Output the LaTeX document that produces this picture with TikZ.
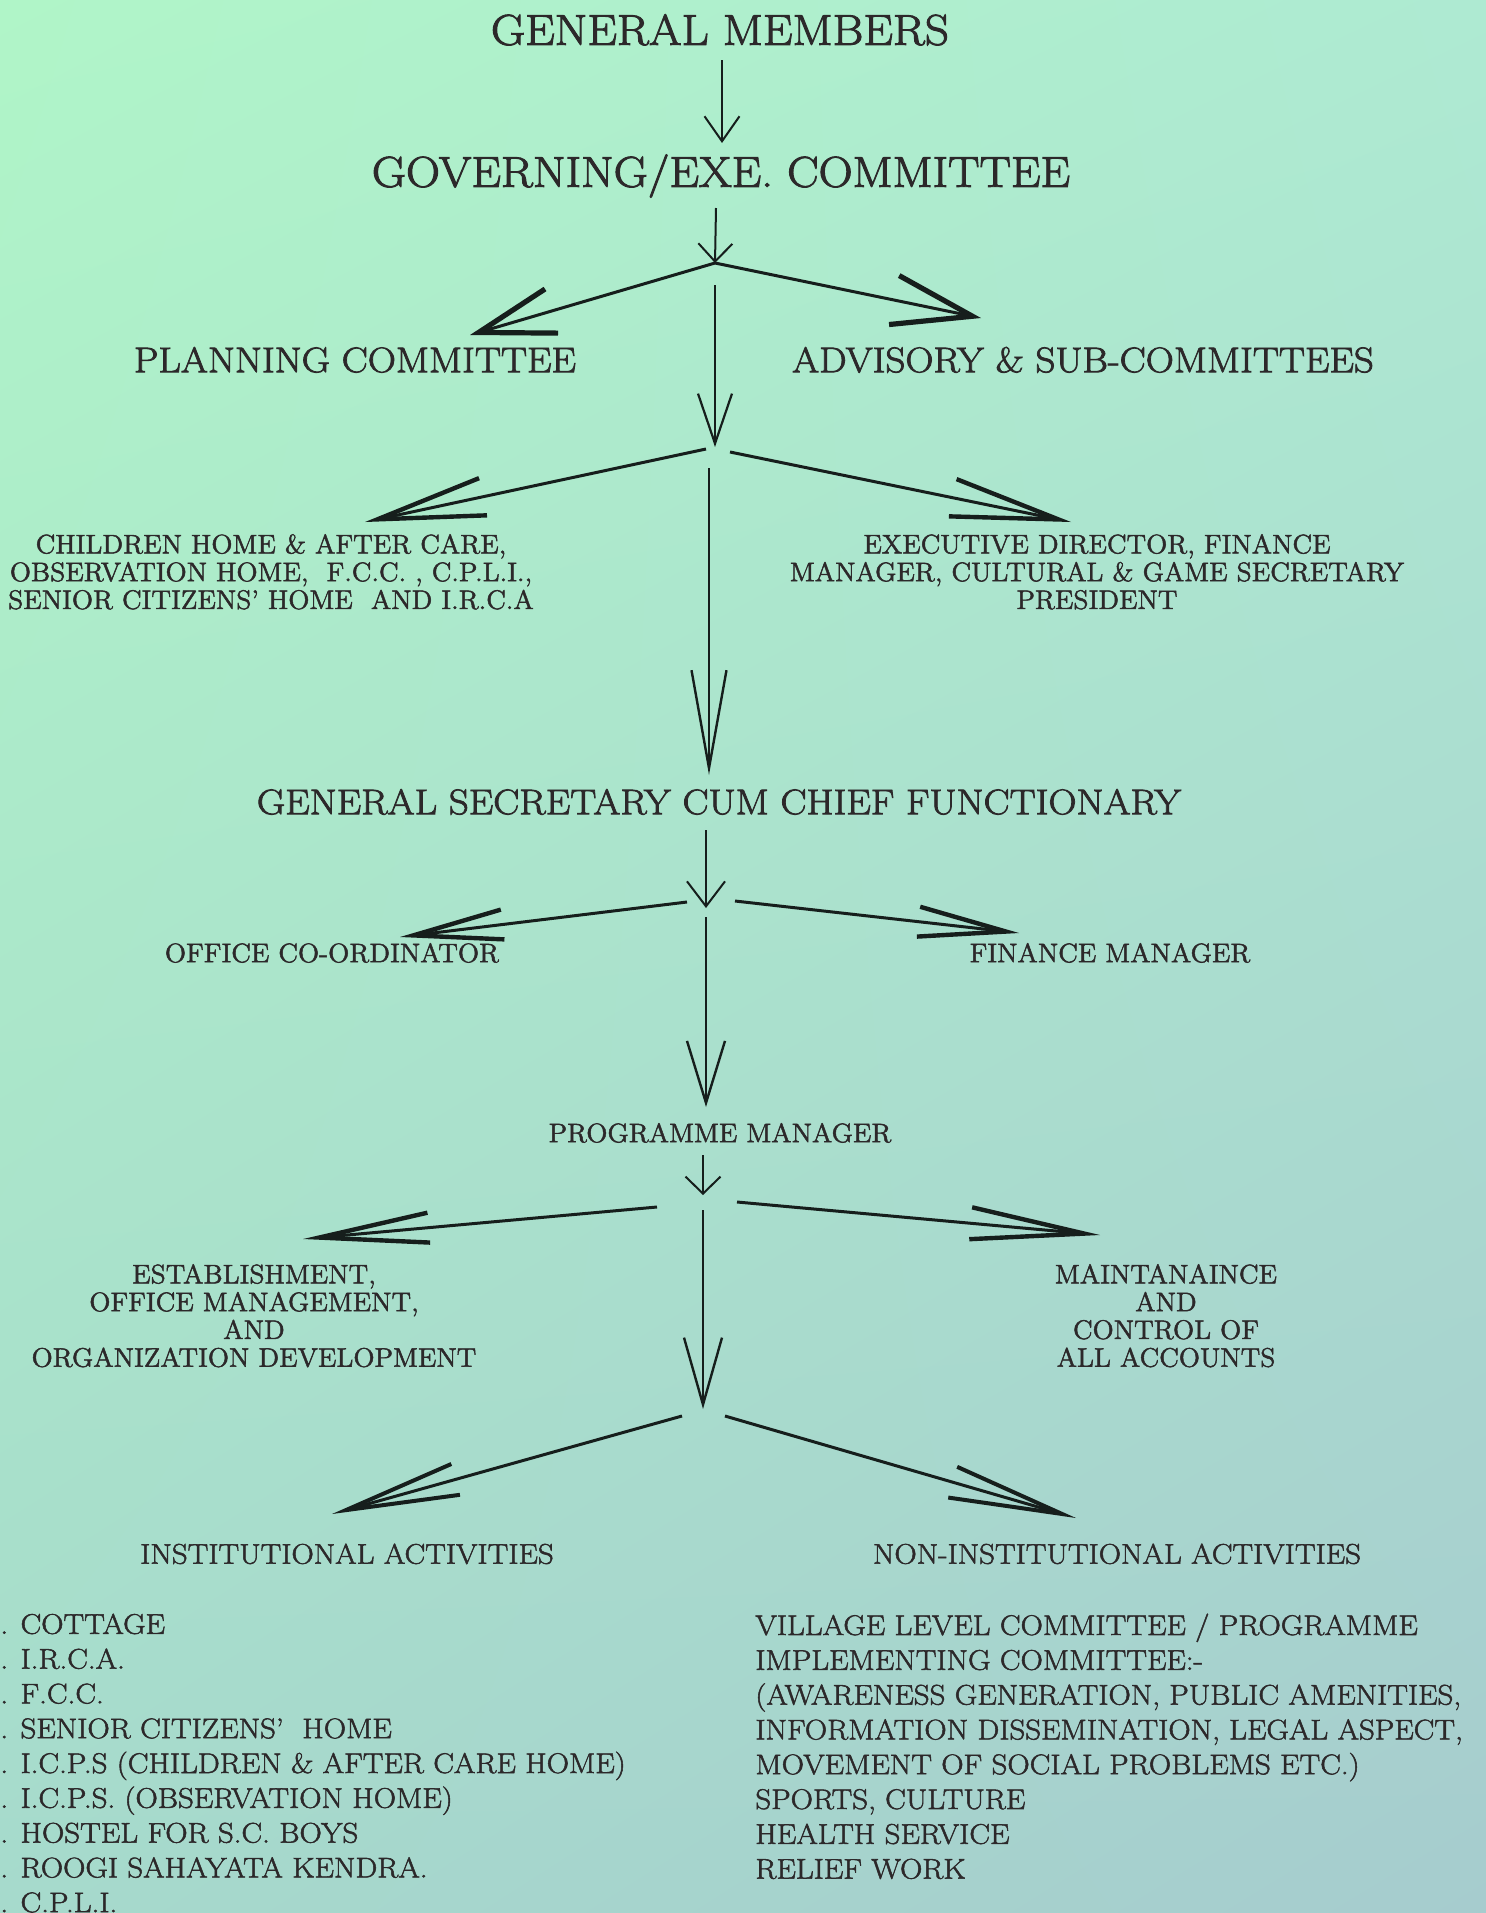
\documentclass[tikz,border=0pt]{standalone}
\usepackage{fontspec}
\setmainfont{Latin Modern Roman}
\newfontfamily\fbig{Latin Modern Roman}[FakeStretch=1.09, FakeBold=2.2]
\newfontfamily\fmid{Latin Modern Roman}[FakeStretch=1.095, FakeBold=2.2]
\newfontfamily\fsml{Latin Modern Roman}[FakeStretch=1.035, FakeBold=1.8]
\newfontfamily\flst{Latin Modern Roman}[FakeStretch=1.09, FakeBold=1.8]
\usetikzlibrary{arrows.meta,shadings}
\definecolor{txt}{RGB}{44,40,42}
\definecolor{lc}{RGB}{22,30,28}
\definecolor{bgTL}{RGB}{176,245,200}
\definecolor{bgTR}{RGB}{174,234,210}
\definecolor{bgBL}{RGB}{166,218,204}
\definecolor{bgBR}{RGB}{166,204,206}
\tikzset{
  lbl/.style={inner sep=0pt, text=txt},
  big/.style={lbl, font=\fbig\fontsize{21.6}{24}\selectfont},
  mid/.style={lbl, font=\fmid\fontsize{17.8}{20}\selectfont},
  sml/.style={lbl, font=\fsml\fontsize{13.4}{13.9}\selectfont, align=center},
  lst/.style={lbl, font=\flst\fontsize{14.2}{17.4}\selectfont, align=left},
  vline/.style={draw=lc, line width=1pt},
  dline/.style={draw=lc, line width=1.5pt},
}
\begin{document}
\begin{tikzpicture}[x=0.5pt,y=-0.5pt]
\useasboundingbox (0,0) rectangle (1486,1913);
\shade[upper left=bgTL, upper right=bgTR, lower left=bgBL, lower right=bgBR] (0,0) rectangle (1486,1913);

% texts
\node[big, anchor=base] (gm) at (720,44.8) {GENERAL MEMBERS};
\node[big, anchor=base] (gov) at (721,186.8) {GOVERNING/EXE. COMMITTEE};
\node[mid, anchor=base] (plan) at (355,372.2) {PLANNING COMMITTEE};
\node[mid, anchor=base] (adv) at (1083,372.2) {ADVISORY \& SUB-COMMITTEES};
\node[sml, anchor=north] (chl) at (271,533.8) {CHILDREN HOME \& AFTER CARE,\\OBSERVATION HOME,\ \ F.C.C. , C.P.L.I.,\\SENIOR CITIZENS’ HOME\ \ AND I.R.C.A};
\node[sml, anchor=north] (exd) at (1097,533.8) {EXECUTIVE DIRECTOR, FINANCE\\MANAGER, CULTURAL \& GAME SECRETARY\\PRESIDENT};
\node[mid, anchor=base] (gs) at (719,814.2) {GENERAL SECRETARY CUM CHIEF FUNCTIONARY};
\node[sml, anchor=base] (oc) at (332,962.2) {OFFICE CO-ORDINATOR};
\node[sml, anchor=base] (fm) at (1110,962.2) {FINANCE MANAGER};
\node[sml, anchor=base] (pm) at (720,1142.2) {PROGRAMME MANAGER};
\node[sml, anchor=north] (est) at (254,1263.8) {ESTABLISHMENT,\\OFFICE MANAGEMENT,\\AND\\ORGANIZATION DEVELOPMENT};
\node[sml, anchor=north] (mnt) at (1166,1263.8) {MAINTANAINCE\\AND\\CONTROL OF\\ALL ACCOUNTS};
\node[lst, anchor=base] (ins) at (347,1563.7) {INSTITUTIONAL ACTIVITIES};
\node[lst, anchor=base] (non) at (1117,1563.7) {NON-INSTITUTIONAL ACTIVITIES};
\node[lst, anchor=north west] (ilist) at (0,1613.3) {. COTTAGE\\. I.R.C.A.\\. F.C.C.\\. SENIOR CITIZENS’\ \ HOME\\. I.C.P.S (CHILDREN \& AFTER CARE HOME)\\. I.C.P.S. (OBSERVATION HOME)\\. HOSTEL FOR S.C. BOYS\\. ROOGI SAHAYATA KENDRA.\\. C.P.L.I.};
\node[lst, anchor=north west] (nlist) at (755,1613.3) {VILLAGE LEVEL COMMITTEE / PROGRAMME\\IMPLEMENTING COMMITTEE:-\\(AWARENESS GENERATION, PUBLIC AMENITIES,\\INFORMATION DISSEMINATION, LEGAL ASPECT,\\MOVEMENT OF SOCIAL PROBLEMS ETC.)\\SPORTS, CULTURE\\HEALTH SERVICE\\RELIEF WORK};

% connector end points
\coordinate (a1s) at (722,60);   \coordinate (a1e) at (722,143);
\coordinate (a2s) at (716,208);  \coordinate (j1) at (715,263);
\coordinate (t1l) at (470,335);  \coordinate (t1r) at (981,318);
\coordinate (v2s) at (715,285);  \coordinate (j2) at (715,447);
\coordinate (j2l) at (706,449);  \coordinate (t2l) at (365,522);
\coordinate (j2r) at (730,452);  \coordinate (t2r) at (1071,522);
\coordinate (v3s) at (709,468);  \coordinate (v3e) at (709,775);
\coordinate (a3s) at (706,830);  \coordinate (j3) at (706,908);
\coordinate (j3l) at (687,902);  \coordinate (t3l) at (400,937);
\coordinate (j3r) at (735,901);  \coordinate (t3r) at (1019,933);
\coordinate (v4s) at (706,917);  \coordinate (v4e) at (706,1107);
\coordinate (a4s) at (703,1155); \coordinate (j4) at (703,1195);
\coordinate (j4l) at (657,1207); \coordinate (t4l) at (303,1239);
\coordinate (j4r) at (737,1202); \coordinate (t4r) at (1100,1235);
\coordinate (v5s) at (703,1210); \coordinate (v5e) at (703,1409);
\coordinate (j5l) at (682,1416); \coordinate (t5l) at (332,1514);
\coordinate (j5r) at (725,1416); \coordinate (t5r) at (1076,1518);

% connectors
\draw[vline, -{Straight Barb[length=12.5pt,width=17.5pt,line width=1pt]}] (a1s) -- (a1e);
\draw[vline, -{Straight Barb[length=9pt,width=17pt,line width=1pt]}] (a2s) -- (j1);
\draw[dline, -{Straight Barb[length=38pt,width=23pt,line width=2.6pt]}] (j1) -- (t1l);
\draw[dline, -{Straight Barb[length=40pt,width=25pt,line width=2.6pt]}] (j1) -- (t1r);
\draw[vline, -{Straight Barb[length=25pt,width=17pt,line width=1.1pt]}] (v2s) -- (j2);
\draw[dline, -{Straight Barb[length=54pt,width=19pt,line width=2.2pt]}] (j2l) -- (t2l);
\draw[dline, -{Straight Barb[length=54pt,width=19pt,line width=2.2pt]}] (j2r) -- (t2r);
\draw[vline, -{Straight Barb[length=49pt,width=17.5pt,line width=1.2pt]}] (v3s) -- (v3e);
\draw[vline, -{Straight Barb[length=12.5pt,width=19pt,line width=1pt]}] (a3s) -- (j3);
\draw[dline, -{Straight Barb[length=45pt,width=15pt,line width=2.2pt]}] (j3l) -- (t3l);
\draw[dline, -{Straight Barb[length=44pt,width=15pt,line width=2.2pt]}] (j3r) -- (t3r);
\draw[vline, -{Straight Barb[length=31pt,width=19pt,line width=1.2pt]}] (v4s) -- (v4e);
\draw[vline, -{Straight Barb[length=8.5pt,width=17.5pt,line width=1pt]}] (a4s) -- (j4);
\draw[dline, -{Straight Barb[length=55pt,width=15pt,line width=2.2pt]}] (j4l) -- (t4l);
\draw[dline, -{Straight Barb[length=57pt,width=16pt,line width=2.2pt]}] (j4r) -- (t4r);
\draw[vline, -{Straight Barb[length=33.5pt,width=19pt,line width=1.2pt]}] (v5s) -- (v5e);
\draw[dline, -{Straight Barb[length=57pt,width=16pt,line width=2pt]}] (j5l) -- (t5l);
\draw[dline, -{Straight Barb[length=57pt,width=16pt,line width=2pt]}] (j5r) -- (t5r);
\end{tikzpicture}
\end{document}
